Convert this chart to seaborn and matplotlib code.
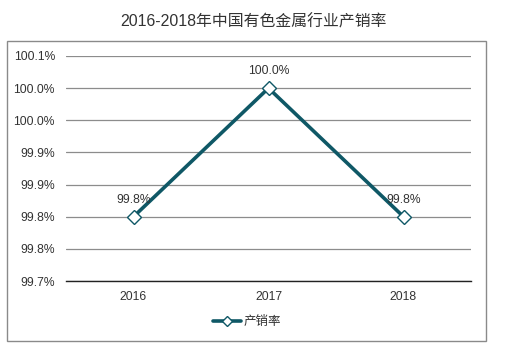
import matplotlib
matplotlib.use("Agg")
import matplotlib.pyplot as plt
import matplotlib.patches as mpatches
import matplotlib.ticker as mticker
import seaborn as sns
import pandas as pd
from decimal import Decimal, ROUND_HALF_UP

# data
years = ["2016", "2017", "2018"]
rates = [99.80, 100.00, 99.80]
point_labels = ["99.8%", "100.0%", "99.8%"]
series_name = "产销率"
title = "2016-2018年中国有色金属行业产销率"

LINE_COLOR = "#0F5866"

sns.set_theme(style="white")
plt.rcParams["font.family"] = ["Liberation Sans", "Noto Sans CJK SC", "DejaVu Sans"]

df = pd.DataFrame({"year": years, "rate": rates})

fig = plt.figure(figsize=(5.07, 3.52), dpi=100)
ax = fig.add_axes([66 / 507, 1 - 281 / 352, 405 / 507, 225 / 352])

sns.lineplot(data=df, x="year", y="rate", ax=ax, color=LINE_COLOR, lw=2.6,
             marker="D", markersize=7, markerfacecolor="white",
             markeredgecolor=LINE_COLOR, markeredgewidth=1.0,
             label=series_name, zorder=3)

ax.set_xlim(-0.5, 2.5)
ax.set_ylim(99.70, 100.05)
ax.yaxis.set_major_locator(mticker.MultipleLocator(0.05))


def excel_pct(v, pos=None):
    d = Decimal(str(round(v, 4))).quantize(Decimal("0.1"), rounding=ROUND_HALF_UP)
    return f"{d}%"


ax.yaxis.set_major_formatter(mticker.FuncFormatter(excel_pct))
ax.grid(axis="y", color="#8c8c8c", lw=0.9)
ax.set_axisbelow(True)
for s in ["top", "left", "right"]:
    ax.spines[s].set_visible(False)
ax.spines["bottom"].set_color("#222222")
ax.spines["bottom"].set_linewidth(1.0)
ax.tick_params(axis="both", length=0, labelsize=8.7, colors="#333333")
ax.tick_params(axis="y", pad=8)
ax.tick_params(axis="x", pad=7)
ax.set_xlabel("")
ax.set_ylabel("")

for i, (v, t) in enumerate(zip(rates, point_labels)):
    ax.annotate(t, (i, v), xytext=(0, 8), textcoords="offset points",
                ha="center", va="bottom", fontsize=8.7, color="#333333")

leg = ax.legend(loc="center", bbox_to_anchor=(247 / 507, 1 - 322 / 352),
                bbox_transform=fig.transFigure, frameon=False, fontsize=9,
                handlelength=2.3, handletextpad=0.2)
for h in leg.legend_handles:
    h.set_markersize(5.5)
for txt in leg.get_texts():
    txt.set_color("#333333")

fig.text(0.5, 1 - 22 / 352, title, ha="center", va="center", fontsize=11.4,
         color="#333333")

border = mpatches.Rectangle((7 / 507, 1 - 341 / 352), 479 / 507, 300 / 352,
                            transform=fig.transFigure, fill=False,
                            edgecolor="#8a8a8a", lw=1.0)
fig.patches.append(border)

fig.savefig("out.png", dpi=100)
